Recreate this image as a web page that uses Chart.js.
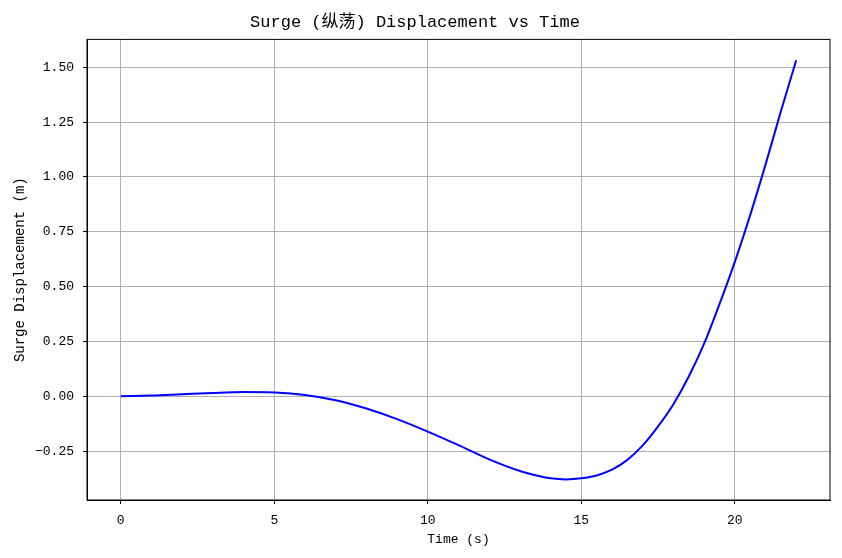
<!DOCTYPE html>
<html>
<head>
<meta charset="utf-8">
<script src="https://cdn.jsdelivr.net/npm/chart.js@4"></script>
<style>
  html, body { margin: 0; padding: 0; background: #fff; }
  #wrap { width: 842px; height: 558px; }
</style>
</head>
<body>
<div id="wrap"><canvas id="chart-canvas"></canvas></div>
<script>
// time (s) and surge displacement (m)
const times = [0, 1, 2, 3, 4, 5, 6, 7, 8, 9, 10, 11, 12, 13, 13.5, 14, 14.5, 15, 15.5, 16, 16.5, 17, 17.5, 18, 18.5, 19, 19.5, 20, 20.5, 21, 21.5, 22];
const displacement = [0, 0.003, 0.009, 0.015, 0.019, 0.017, 0.006, -0.018, -0.056, -0.104, -0.161, -0.223, -0.288, -0.341, -0.36, -0.374, -0.379, -0.374, -0.361, -0.335, -0.290, -0.224, -0.137, -0.036, 0.09, 0.24, 0.42, 0.613, 0.826, 1.056, 1.299, 1.532];

const xTicks = [0, 5, 10, 15, 20];
const yTicks = [-0.25, 0, 0.25, 0.5, 0.75, 1.0, 1.25, 1.5];

const FONT = "'Liberation Mono', 'Noto Sans CJK SC', monospace";

// matplotlib draws a full box round the axes
const frameBox = {
  id: 'frameBox',
  afterDraw(chart) {
    const { ctx, chartArea: a } = chart;
    ctx.save();
    ctx.strokeStyle = '#000';
    ctx.lineWidth = 1;
    ctx.strokeRect(a.left, a.top, a.right - a.left, a.bottom - a.top);
    ctx.restore();
  }
};

new Chart(document.getElementById('chart-canvas'), {
  type: 'line',
  plugins: [frameBox],
  data: {
    datasets: [{
      label: 'Surge',
      data: times.map((t, i) => ({ x: t, y: displacement[i] })),
      borderColor: '#0000ff',
      borderWidth: 2,
      pointRadius: 0,
      cubicInterpolationMode: 'monotone',
      fill: false
    }]
  },
  options: {
    responsive: true,
    maintainAspectRatio: false,
    animation: false,
    layout: { padding: { left: 0, right: 12, top: 0, bottom: 0 } },
    plugins: {
      legend: { display: false },
      tooltip: { enabled: false },
      title: {
        display: true,
        text: 'Surge (纵荡) Displacement vs Time',
        color: '#000',
        font: { family: FONT, size: 17, weight: 'normal' },
        padding: { top: 12, bottom: 7 }
      }
    },
    scales: {
      x: {
        type: 'linear',
        min: -1.1,
        max: 23.1,
        afterBuildTicks: axis => { axis.ticks = xTicks.map(v => ({ value: v })); },
        afterFit: scale => { scale.height = 58; },
        ticks: {
          color: '#000',
          font: { family: FONT, size: 13 },
          padding: 9,
          maxRotation: 0,
          callback: v => String(v)
        },
        grid: { color: '#b0b0b0', lineWidth: 1, tickColor: '#000', tickLength: 4 },
        border: { display: true, color: '#000', width: 1 },
        title: {
          display: true,
          text: 'Time (s)',
          color: '#000',
          font: { family: FONT, size: 13 },
          padding: { top: 0, bottom: 11 }
        }
      },
      y: {
        type: 'linear',
        min: -0.473,
        max: 1.627,
        afterBuildTicks: axis => { axis.ticks = yTicks.map(v => ({ value: v })); },
        afterFit: scale => { scale.width = 87; },
        ticks: {
          color: '#000',
          font: { family: FONT, size: 13 },
          padding: 9,
          callback: v => (v < 0 ? '\u2212' + Math.abs(v).toFixed(2) : v.toFixed(2))
        },
        grid: { color: '#b0b0b0', lineWidth: 1, tickColor: '#000', tickLength: 4 },
        border: { display: true, color: '#000', width: 1 },
        title: {
          display: true,
          text: 'Surge Displacement (m)',
          color: '#000',
          font: { family: FONT, size: 14 },
          padding: { top: 12, bottom: 0 }
        }
      }
    }
  }
});
</script>
</body>
</html>
